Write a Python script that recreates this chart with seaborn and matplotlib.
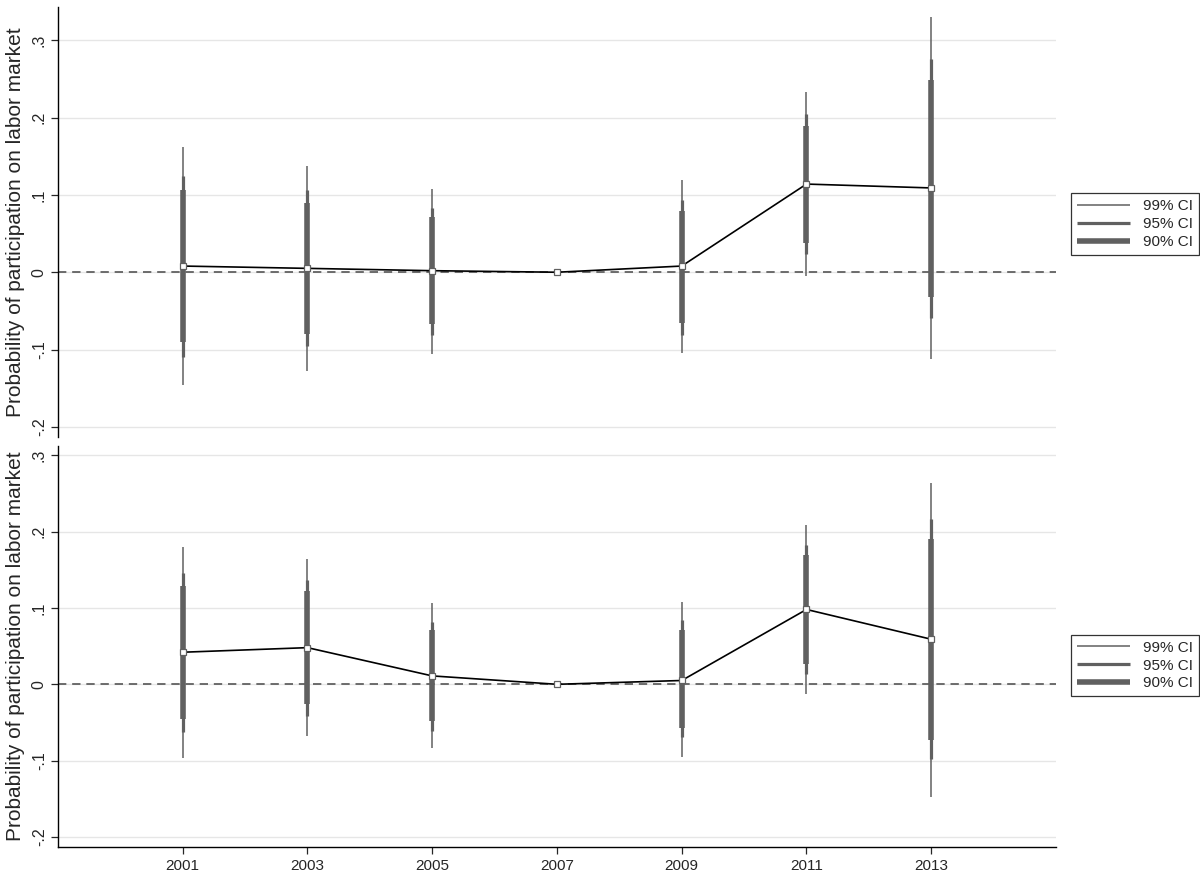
import matplotlib
matplotlib.use("Agg")
import matplotlib.pyplot as plt
from matplotlib.lines import Line2D
import seaborn as sns
import pandas as pd

## DATA
years = [2001, 2003, 2005, 2007, 2009, 2011, 2013]

# top panel
coef_top = [0.008, 0.005, 0.002, 0.0, 0.008, 0.114, 0.109]
lo99_top = [-0.146, -0.128, -0.106, 0.0, -0.105, -0.005, -0.112]
hi99_top = [0.162, 0.137, 0.108, 0.0, 0.119, 0.233, 0.330]
lo95_top = [-0.109, -0.096, -0.081, 0.0, -0.081, 0.024, -0.059]
hi95_top = [0.125, 0.106, 0.083, 0.0, 0.093, 0.204, 0.276]
lo90_top = [-0.090, -0.080, -0.067, 0.0, -0.066, 0.038, -0.032]
hi90_top = [0.106, 0.090, 0.071, 0.0, 0.079, 0.189, 0.249]

# bottom panel
coef_bot = [0.042, 0.048, 0.011, 0.0, 0.005, 0.098, 0.059]
lo99_bot = [-0.096, -0.068, -0.084, 0.0, -0.095, -0.013, -0.147]
hi99_bot = [0.180, 0.164, 0.106, 0.0, 0.108, 0.209, 0.264]
lo95_bot = [-0.062, -0.041, -0.061, 0.0, -0.069, 0.013, -0.098]
hi95_bot = [0.146, 0.136, 0.082, 0.0, 0.084, 0.183, 0.216]
lo90_bot = [-0.046, -0.026, -0.048, 0.0, -0.057, 0.027, -0.073]
hi90_bot = [0.129, 0.122, 0.071, 0.0, 0.071, 0.169, 0.190]

ytick_vals = [-0.2, -0.1, 0.0, 0.1, 0.2, 0.3]
ytick_labels = ["-.2", "-.1", "0", ".1", ".2", ".3"]
ylabel = "Probability of participation on labor market"
ci_labels = ["99% CI", "95% CI", "90% CI"]

## STYLE
sns.set_style("white")
plt.rcParams['font.family'] = ['Liberation Sans', 'DejaVu Sans']

ci_color = "#606060"
ci_widths = [1.1, 2.3, 4.0]

fig = plt.figure(figsize=(12, 8.72), dpi=100)
ax_top = fig.add_axes([0.0483, 0.4989, 0.8317, 0.4931])
ax_bot = fig.add_axes([0.0483, 0.0287, 0.8317, 0.4598])


def draw_panel(ax, coef, ci99, ci95, ci90, ylim):
    df = pd.DataFrame({"year": years, "coef": coef})
    # grid lines
    for v in ytick_vals:
        ax.axhline(v, color="#e6e6e6", lw=1.0, zorder=0)
    # zero reference line
    ax.axhline(0, color="#555555", lw=1.2, ls=(0, (5, 3.5)), zorder=1)
    # confidence intervals, widest first
    for (lo, hi), w in zip([ci99, ci95, ci90], ci_widths):
        ax.vlines(years, lo, hi, color=ci_color, lw=w, zorder=2, capstyle="butt")
    # point estimates
    sns.lineplot(data=df, x="year", y="coef", ax=ax, color="black", lw=1.2,
                 marker="s", markersize=4.2, markerfacecolor="white",
                 markeredgecolor=ci_color, markeredgewidth=0.9, zorder=3)
    ax.set_xlim(1999, 2015)
    ax.set_ylim(*ylim)
    ax.set_yticks(ytick_vals)
    ax.set_yticklabels(ytick_labels, rotation=90, va="center", fontsize=11.5)
    ax.tick_params(axis="y", direction="out", length=5, width=0.9, pad=3, left=True)
    ax.set_ylabel(ylabel, fontsize=15, labelpad=5)
    ax.set_xlabel("")
    sns.despine(ax=ax, top=True, right=True)
    ax.spines["left"].set_color("black")
    ax.spines["left"].set_linewidth(1.0)

    handles = [Line2D([0], [0], color=ci_color, lw=w, solid_capstyle="butt")
               for w in ci_widths]
    return handles


handles = draw_panel(ax_top, coef_top, (lo99_top, hi99_top), (lo95_top, hi95_top),
                     (lo90_top, hi90_top), (-0.213, 0.343))
ax_top.spines["bottom"].set_visible(False)
ax_top.set_xticks([])

draw_panel(ax_bot, coef_bot, (lo99_bot, hi99_bot), (lo95_bot, hi95_bot),
           (lo90_bot, hi90_bot), (-0.213, 0.312))
ax_bot.set_xticks(years)
ax_bot.set_xticklabels([str(y) for y in years], fontsize=11)
ax_bot.tick_params(axis="x", direction="out", length=5, width=0.9, bottom=True)
ax_bot.spines["bottom"].set_color("black")
ax_bot.spines["bottom"].set_linewidth(1.0)

# legends at the right of each panel
for top in [0.787, 0.281]:
    leg = fig.legend(handles, ci_labels, loc="upper left", bbox_to_anchor=(0.886, top),
                     fontsize=11, frameon=True, fancybox=False, handlelength=3.5,
                     labelspacing=0.25, borderpad=0.4, handletextpad=0.8)
    leg.get_frame().set_edgecolor("black")
    leg.get_frame().set_linewidth(0.9)

fig.savefig("out.png", dpi=100)
plt.close()
